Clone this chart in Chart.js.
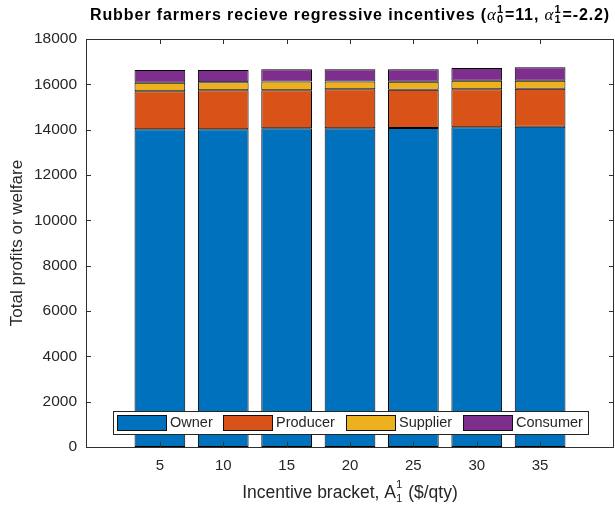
<!DOCTYPE html>
<html>
<head>
<meta charset="utf-8">
<script src="https://cdn.jsdelivr.net/npm/chart.js@4.4.0/dist/chart.umd.min.js"></script>
<style>
  html, body { margin: 0; padding: 0; background: #fff; }
</style>
</head>
<body>
<canvas id="chart" width="615" height="508"></canvas>
<script>
// incentive brackets (x positions)
const brackets = [5, 10, 15, 20, 25, 30, 35];

// stacked components
const owner    = [14020, 14020, 14065, 14065, 14070, 14110, 14130];
const producer = [1670, 1715, 1670, 1715, 1690, 1670, 1676];
const supplier = [380, 355, 395, 350, 355, 380, 354];
const consumer = [560, 540, 540, 540, 555, 557, 590];

const seriesNames = ['Owner', 'Producer', 'Supplier', 'Consumer'];
const yTicks = [0, 2000, 4000, 6000, 8000, 10000, 12000, 14000, 16000, 18000];

const colors = ['#0072BD', '#D95319', '#EDB120', '#7E2F8E'];
const textColor = '#262626';
const axisColor = '#303030';
const FONT = '"Liberation Sans", Arial, Helvetica, sans-serif';

const datasets = [owner, producer, supplier, consumer].map((vals, i) => ({
  label: seriesNames[i],
  data: brackets.map((x, j) => ({ x, y: vals[j] })),
  backgroundColor: colors[i],
  borderColor: '#000',
  borderWidth: 1,
  borderSkipped: false,
  barPercentage: 0.8,
  categoryPercentage: 1.0
}));

// draws text pieces in a row; a piece with sup/sub stacks two small glyphs
function richWidth(ctx, parts) {
  let w = 0;
  parts.forEach(p => {
    ctx.font = p.font;
    if (p.stack) {
      w += Math.max(ctx.measureText(p.sup).width, ctx.measureText(p.sub).width) + 1;
    } else {
      w += ctx.measureText(p.t).width;
    }
  });
  return w;
}
function drawRich(ctx, parts, cx, y, spacing) {
  ctx.letterSpacing = spacing + 'px';
  let x = cx - richWidth(ctx, parts) / 2;
  ctx.textAlign = 'left';
  ctx.textBaseline = 'alphabetic';
  parts.forEach(p => {
    ctx.font = p.font;
    if (p.stack) {
      ctx.fillText(p.sup, x, y + p.supDy);
      ctx.fillText(p.sub, x, y + p.subDy);
      x += Math.max(ctx.measureText(p.sup).width, ctx.measureText(p.sub).width) + 1;
    } else {
      ctx.fillText(p.t, x, y);
      x += ctx.measureText(p.t).width;
    }
  });
  ctx.letterSpacing = '0px';
}

const matlabLook = {
  id: 'matlabLook',
  afterDatasetsDraw(chart) {
    const { ctx, chartArea: a, scales } = chart;
    ctx.save();
    ctx.strokeStyle = axisColor;
    ctx.lineWidth = 1;
    ctx.strokeRect(a.left + 0.5, a.top + 0.5, a.right - a.left - 1, a.bottom - a.top);
    ctx.beginPath();
    yTicks.forEach(v => {
      const y = Math.round(scales.y.getPixelForValue(v)) + 0.5;
      ctx.moveTo(a.left, y); ctx.lineTo(a.left + 5, y);
      ctx.moveTo(a.right, y); ctx.lineTo(a.right - 5, y);
    });
    brackets.forEach(v => {
      const x = Math.round(scales.x.getPixelForValue(v)) + 0.5;
      ctx.moveTo(x, a.bottom); ctx.lineTo(x, a.bottom - 5);
      ctx.moveTo(x, a.top); ctx.lineTo(x, a.top + 5);
    });
    ctx.stroke();
    ctx.restore();
  },
  afterDraw(chart) {
    const { ctx, chartArea: a } = chart;
    ctx.save();
    // legend box inside the axes
    const lx = 113, ly = 411, lw = 475, lh = 23;
    ctx.fillStyle = '#fff';
    ctx.fillRect(lx, ly, lw, lh);
    ctx.strokeStyle = '#262626';
    ctx.lineWidth = 1;
    ctx.strokeRect(lx + 0.5, ly + 0.5, lw, lh);
    const swatchX = [117, 223, 346, 463];
    ctx.font = '14.5px ' + FONT;
    ctx.textBaseline = 'middle';
    ctx.textAlign = 'left';
    chart.data.datasets.forEach((ds, i) => {
      ctx.fillStyle = ds.backgroundColor;
      ctx.fillRect(swatchX[i], 415, 49, 15);
      ctx.strokeStyle = '#111';
      ctx.strokeRect(swatchX[i] + 0.5, 415.5, 49, 15);
      ctx.fillStyle = textColor;
      ctx.fillText(ds.label, swatchX[i] + 53, 423);
    });

    ctx.fillStyle = '#000';
    const B = 'bold 16px ' + FONT;
    const S = 'bold 11px ' + FONT;
    const G = 'italic 17px "Liberation Serif", "DejaVu Serif", serif';
    drawRich(ctx, [
      { t: 'Rubber farmers recieve regressive incentives (', font: B },
      { t: '\u03b1', font: G },
      { stack: true, sup: '1', sub: '0', font: S, supDy: -7, subDy: 3 },
      { t: '=11, ', font: B },
      { t: '\u03b1', font: G },
      { stack: true, sup: '1', sub: '1', font: S, supDy: -7, subDy: 3 },
      { t: '=-2.2)', font: B }
    ], (a.left + a.right) / 2, 20, 0.9);

    ctx.fillStyle = textColor;
    const N = '17.5px ' + FONT;
    const s = '11.5px ' + FONT;
    drawRich(ctx, [
      { t: 'Incentive bracket, A', font: N },
      { stack: true, sup: '1', sub: '1', font: s, supDy: -10, subDy: 4 },
      { t: ' ($/qty)', font: N }
    ], (a.left + a.right) / 2, 498, 0);
    ctx.restore();
  }
};

new Chart(document.getElementById('chart'), {
  type: 'bar',
  data: { datasets },
  options: {
    responsive: false,
    animation: false,
    layout: { padding: { top: 39, right: 1, left: 0, bottom: 0 } },
    plugins: {
      legend: { display: false },
      tooltip: { enabled: false }
    },
    scales: {
      x: {
        type: 'linear',
        stacked: true,
        offset: false,
        min: -0.83,
        max: 40.83,
        afterBuildTicks: scale => { scale.ticks = brackets.map(v => ({ value: v })); },
        afterFit: scale => { scale.height = 61; },
        grid: { display: false, drawTicks: false },
        border: { display: false },
        ticks: { color: textColor, font: { family: FONT, size: 15 }, padding: 10, callback: v => String(v) }
      },
      y: {
        stacked: true,
        min: 0,
        max: 18000,
        afterBuildTicks: scale => { scale.ticks = yTicks.map(v => ({ value: v })); },
        afterFit: scale => { scale.width = 86; },
        grid: { display: false, drawTicks: false },
        border: { display: false },
        ticks: { color: textColor, font: { family: FONT, size: 15.5 }, padding: 9, callback: v => String(v) },
        title: {
          display: true,
          text: 'Total profits or welfare',
          color: textColor,
          font: { family: FONT, size: 17 },
          padding: { top: 7, bottom: 0 }
        }
      }
    }
  },
  plugins: [matlabLook]
});
</script>
</body>
</html>
